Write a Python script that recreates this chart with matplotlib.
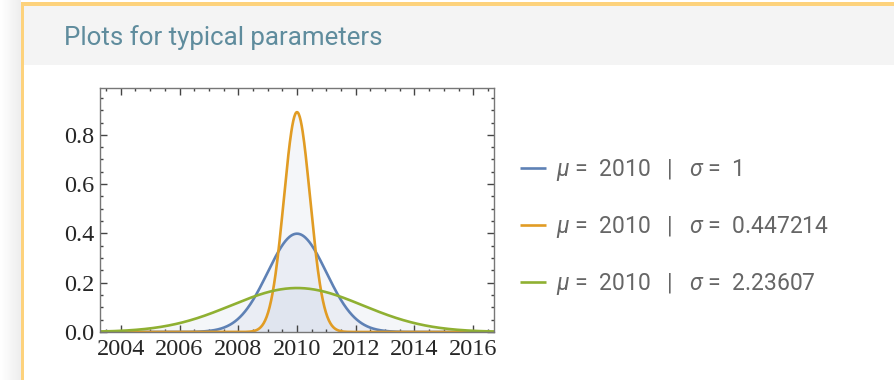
import numpy as np
import matplotlib
matplotlib.use("Agg")
import matplotlib.pyplot as plt
from matplotlib.patches import Rectangle
from matplotlib.ticker import MultipleLocator

# distribution parameters shown in the legend
mus = [2010, 2010, 2010]
sigmas = [1, 0.447214, 2.23607]
colors = ['#5e81b5', '#e19c24', '#8fb032']
x_ticks = [2004, 2006, 2008, 2010, 2012, 2014, 2016]
y_ticks = [0.0, 0.2, 0.4, 0.6, 0.8]

plt.rcParams['mathtext.fontset'] = 'custom'
plt.rcParams['mathtext.it'] = 'Roboto:italic'
plt.rcParams['mathtext.rm'] = 'Roboto'

W, H = 894, 380
fig = plt.figure(figsize=(W / 100, H / 100), dpi=100)
fig.patch.set_facecolor('white')

# page decoration: shadow, yellow border, grey header band
bg = fig.add_axes([0, 0, 1, 1], zorder=0)
bg.axis('off')
shade = np.linspace(1.0, 0.93, 64)[None, :]
bg.imshow(np.repeat(shade, 2, axis=0), cmap='gray', vmin=0, vmax=1,
          extent=(0, 21, H, 0), aspect='auto', interpolation='bilinear')
bg.add_patch(Rectangle((23, 6), W - 23, 59, color='#f4f4f4', lw=0))
bg.add_patch(Rectangle((21, 2), W - 21, 4, color='#fdd27c', lw=0))
bg.add_patch(Rectangle((21, 2), 2.5, H, color='#fdd27c', lw=0))
bg.text(64, 38, 'Plots for typical parameters', family='Roboto',
        fontsize=18.6, color='#5f8c9d', va='center', ha='left')
bg.set_xlim(0, W)
bg.set_ylim(H, 0)

ax = fig.add_axes([100 / W, 48 / H, 394 / W, 244 / H], zorder=1)
x_lo = mus[0] - 3 * max(sigmas)
x_hi = mus[0] + 3 * max(sigmas)
x = np.linspace(x_lo, x_hi, 800)

for mu, s, c in zip(mus, sigmas, colors):
    y = np.exp(-0.5 * ((x - mu) / s) ** 2) / (s * np.sqrt(2 * np.pi))
    ax.fill_between(x, 0, y, color='#4a68a6', alpha=0.06, lw=0)
    ax.plot(x, y, color=c, lw=1.9, solid_capstyle='butt',
            label=f'$\\mu$ =  {mu}   |   $\\sigma$ =  {s:g}')

ax.set_xlim(x_lo, x_hi)
ax.set_ylim(0, 0.99)
ax.set_xticks(x_ticks)
ax.set_yticks(y_ticks)
ax.set_yticklabels([f'{v:.1f}' for v in y_ticks])
ax.xaxis.set_minor_locator(MultipleLocator(0.5))
ax.yaxis.set_minor_locator(MultipleLocator(0.05))
ax.tick_params(which='both', direction='in', top=True, right=True,
               color='#444444', width=1)
ax.tick_params(which='major', length=5, labelsize=17.5, labelcolor='#262626')
ax.tick_params(axis='x', which='major', pad=5)
ax.tick_params(axis='y', which='major', pad=4)
ax.tick_params(which='minor', length=2.5)
for lab in ax.get_xticklabels() + ax.get_yticklabels():
    lab.set_family('Liberation Serif')
for sp in ax.spines.values():
    sp.set_color('#777777')
    sp.set_linewidth(1)

ax.legend(loc='center left', bbox_to_anchor=(499 / W, 1 - 227 / H),
          bbox_transform=fig.transFigure, frameon=False,
          prop={'family': 'Roboto', 'size': 16.5}, labelcolor='#666666',
          handlelength=1.14, handletextpad=0.44, labelspacing=1.36)

fig.savefig('out.png', dpi=100, facecolor='white')
